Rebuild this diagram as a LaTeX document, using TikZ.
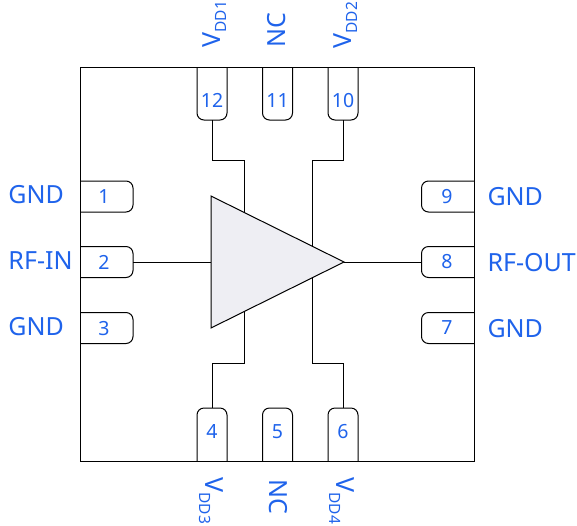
\documentclass[tikz,border=0pt]{standalone}
\usepackage{fontspec}
\setmainfont{Noto Sans}
\usepackage{tikz}
\definecolor{pinblue}{HTML}{1F63EB}
\definecolor{ampfill}{HTML}{EEEEF3}
\newcommand{\vdd}[1]{V\raisebox{-0.25em}{\fontsize{15.5pt}{15.5pt}\selectfont DD#1}}
\begin{document}
\begin{tikzpicture}[x=1pt,y=-1pt,line width=1pt]
            \tikzstyle{pinbox}=[rectangle,inner sep=0pt,outer sep=0pt]
            \tikzstyle{pinnum}=[text=pinblue,font=\fontsize{19.5pt}{20pt}\selectfont,inner sep=0pt]
            \tikzstyle{pinname}=[text=pinblue,font=\fontsize{25pt}{26pt}\selectfont,inner sep=0pt]
            \tikzstyle{outline}=[draw=black,rounded corners=7pt]
            \useasboundingbox (0,0) rectangle (577,525);
            \node[pinbox,draw=black,minimum width=394pt,minimum height=394pt](chip) at (277.5,264){};
            % pins on the left and right
            \foreach \n/\y in {1/196.5,2/262,3/328}{
                \node[pinbox,minimum width=53pt,minimum height=31pt](pin\n) at (106.5,\y){};
                \draw[outline] (pin\n.north west) -- (pin\n.north east) -- (pin\n.south east) -- (pin\n.south west);
                \node[pinnum] (num\n) at (104,\y+.5) {\n};
            }
            \foreach \n/\y in {9/196.5,8/262,7/328}{
                \node[pinbox,minimum width=53pt,minimum height=31pt](pin\n) at (448,\y){};
                \draw[outline] (pin\n.north east) -- (pin\n.north west) -- (pin\n.south west) -- (pin\n.south east);
                \node[pinnum] (num\n) at (447,\y) {\n};
            }
            % pins on the top and bottom
            \foreach \n/\x in {12/212,11/277.5,10/343}{
                \node[pinbox,minimum width=30pt,minimum height=53pt](pin\n) at (\x,93.5){};
                \draw[outline] (pin\n.north west) -- (pin\n.south west) -- (pin\n.south east) -- (pin\n.north east);
                \node[pinnum] (num\n) at (\x,100.5) {\n};
            }
            \foreach \n/\x in {4/212,5/277.5,6/343}{
                \node[pinbox,minimum width=30pt,minimum height=53pt](pin\n) at (\x,434.5){};
                \draw[outline] (pin\n.south west) -- (pin\n.north west) -- (pin\n.north east) -- (pin\n.south east);
                \node[pinnum] (num\n) at (\x,431.5) {\n};
            }
            % amplifier
            \coordinate (amptop) at (211,196);
            \coordinate (ampbot) at (211,328);
            \coordinate (amptip) at (344,262);
            \filldraw[draw=black,fill=ampfill] (amptop) -- (amptip) -- (ampbot) -- cycle;
            % wires
            \draw (pin2.east) -- (pin2.east -| amptop);
            \draw (amptip) -- (pin8.west);
            \coordinate (tapa) at (244,212.4);
            \coordinate (tapb) at (312,246);
            \coordinate (tapc) at (244,311.6);
            \coordinate (tapd) at (312,278);
            \draw (pin12.south) -- (212,160) -- (244,160) -- (tapa);
            \draw (pin10.south) -- (343,160) -- (312,160) -- (tapb);
            \draw (pin4.north) -- (212,363) -- (244,363) -- (tapc);
            \draw (pin6.north) -- (343,363) -- (312,363) -- (tapd);
            % names
            \node[pinname,anchor=west](gnda) at (8,195){GND};
            \node[pinname,anchor=west](rfin) at (8,261){RF-IN};
            \node[pinname,anchor=west](gndb) at (8,327){GND};
            \node[pinname,anchor=west](gndc) at (487,197){GND};
            \node[pinname,anchor=west](rfout) at (487,263){RF-OUT};
            \node[pinname,anchor=west](gndd) at (487,329){GND};
            \node[pinname,rotate=90,anchor=west](vdda) at (214.5,48){\vdd{1}};
            \node[pinname,rotate=90,anchor=west](nca) at (277,48){NC};
            \node[pinname,rotate=90,anchor=west](vddb) at (345.5,49){\vdd{2}};
            \node[pinname,rotate=-90,anchor=west](vddc) at (211,477){\vdd{3}};
            \node[pinname,rotate=-90,anchor=west](ncb) at (278,479){NC};
            \node[pinname,rotate=-90,anchor=west](vddd) at (342,477){\vdd{4}};
\end{tikzpicture}
\end{document}
